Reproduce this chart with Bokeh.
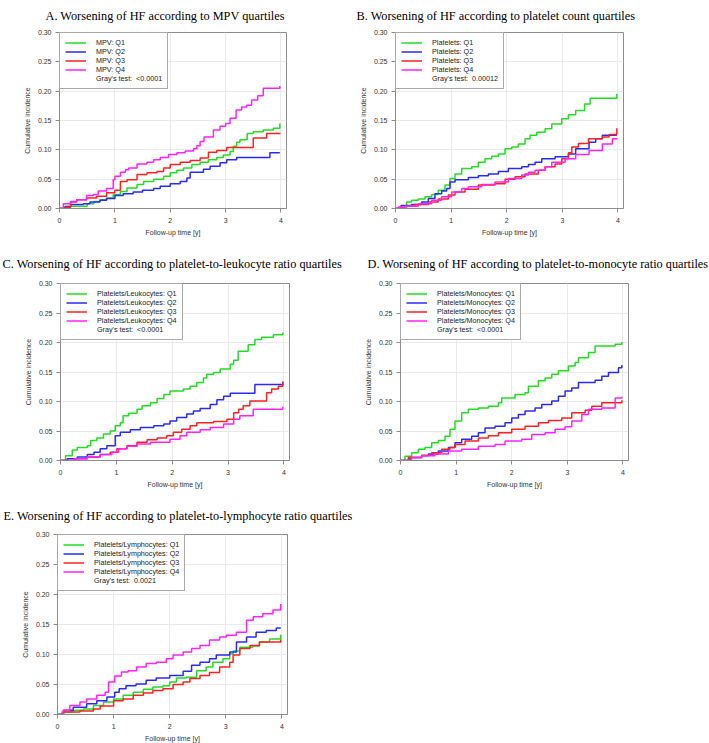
from bokeh.plotting import figure
from bokeh.models import Range1d, FixedTicker, Legend, LegendItem, NumeralTickFormatter
from bokeh.layouts import column, row
from bokeh.embed import file_html
from bokeh.resources import INLINE

# ---------------- data ----------------
COLORS = ["#22dd22", "#2a2aff", "#ff2020", "#ff22ff"]
X_TICKS = [0, 1, 2, 3, 4]
Y_TICKS = [0.0, 0.05, 0.10, 0.15, 0.20, 0.25, 0.30]

TITLES = [
    "A. Worsening of HF according to MPV quartiles",
    "B. Worsening of HF according to platelet count quartiles",
    "C. Worsening of HF according to platelet-to-leukocyte ratio quartiles",
    "D. Worsening of HF according to platelet-to-monocyte ratio quartiles",
    "E. Worsening of HF according to platelet-to-lymphocyte ratio quartiles",
]
GROUP_NAMES = ["MPV", "Platelets", "Platelets/Leukocytes", "Platelets/Monocytes", "Platelets/Lymphocytes"]
QUARTILES = ["Q1", "Q2", "Q3", "Q4"]
GRAY_P = ["<0.0001", "0.00012", "<0.0001", "<0.0001", "0.0021"]

# Panel A (MPV)
A_Q1_t = [0, 0.1, 0.5, 0.62, 0.73, 0.85, 0.97, 1.1, 1.22, 1.4, 1.52, 1.7, 1.88, 2.0, 2.12, 2.24, 2.39, 2.54, 2.69, 2.84, 2.96, 3.08, 3.14, 3.2, 3.26, 3.39, 3.5, 3.68, 3.86, 3.98]
A_Q1_y = [0, 0.004, 0.008, 0.012, 0.015, 0.018, 0.024, 0.029, 0.035, 0.041, 0.046, 0.050, 0.055, 0.061, 0.065, 0.069, 0.075, 0.079, 0.083, 0.087, 0.091, 0.097, 0.106, 0.113, 0.117, 0.128, 0.131, 0.134, 0.137, 0.145]
A_Q2_t = [0, 0.1, 0.2, 0.43, 0.55, 0.73, 0.85, 1.0, 1.15, 1.33, 1.5, 1.7, 1.82, 2.0, 2.18, 2.3, 2.36, 2.6, 2.72, 2.9, 3.02, 3.2, 3.8, 3.98]
A_Q2_y = [0, 0.003, 0.007, 0.008, 0.011, 0.014, 0.017, 0.022, 0.025, 0.028, 0.031, 0.034, 0.038, 0.042, 0.046, 0.052, 0.062, 0.067, 0.072, 0.078, 0.083, 0.087, 0.095, 0.095]
A_Q3_t = [0, 0.1, 0.2, 0.31, 0.49, 0.67, 0.85, 1.0, 1.1, 1.22, 1.4, 1.58, 1.76, 1.88, 2.0, 2.18, 2.36, 2.54, 2.69, 2.84, 3.02, 3.5, 3.74, 3.98]
A_Q3_y = [0, 0.002, 0.011, 0.015, 0.018, 0.021, 0.027, 0.031, 0.046, 0.049, 0.058, 0.061, 0.063, 0.069, 0.075, 0.079, 0.082, 0.086, 0.096, 0.099, 0.104, 0.120, 0.128, 0.129]
A_Q4_t = [0, 0.07, 0.2, 0.31, 0.49, 0.61, 0.7, 0.85, 0.97, 1.0, 1.1, 1.19, 1.25, 1.4, 1.58, 1.7, 1.82, 1.97, 2.12, 2.27, 2.42, 2.48, 2.54, 2.61, 2.78, 2.9, 3.0, 3.08, 3.19, 3.29, 3.38, 3.47, 3.58, 3.68, 3.98]
A_Q4_y = [0, 0.008, 0.012, 0.015, 0.022, 0.024, 0.030, 0.034, 0.049, 0.055, 0.062, 0.066, 0.069, 0.076, 0.079, 0.083, 0.087, 0.092, 0.095, 0.098, 0.102, 0.107, 0.114, 0.122, 0.134, 0.140, 0.145, 0.154, 0.168, 0.173, 0.176, 0.185, 0.192, 0.205, 0.209]

# Panel B (platelet count)
B_Q1_t = [0, 0.2, 0.29, 0.41, 0.53, 0.65, 0.77, 0.89, 0.98, 1.07, 1.19, 1.37, 1.49, 1.61, 1.73, 1.85, 1.97, 2.09, 2.21, 2.33, 2.42, 2.54, 2.69, 2.81, 2.99, 3.11, 3.24, 3.4, 3.5, 3.98]
B_Q1_y = [0, 0.011, 0.014, 0.016, 0.020, 0.024, 0.031, 0.040, 0.051, 0.059, 0.068, 0.071, 0.079, 0.085, 0.089, 0.093, 0.102, 0.105, 0.110, 0.119, 0.125, 0.130, 0.136, 0.144, 0.153, 0.160, 0.167, 0.178, 0.188, 0.195]
B_Q2_t = [0, 0.1, 0.29, 0.47, 0.59, 0.71, 0.83, 0.92, 0.98, 1.07, 1.31, 1.49, 1.67, 1.85, 2.03, 2.27, 2.39, 2.51, 2.63, 2.87, 3.11, 3.24, 3.48, 3.6, 3.72, 3.98]
B_Q2_y = [0, 0.005, 0.007, 0.011, 0.017, 0.025, 0.030, 0.034, 0.045, 0.049, 0.053, 0.056, 0.059, 0.063, 0.068, 0.071, 0.075, 0.079, 0.085, 0.088, 0.093, 0.102, 0.113, 0.119, 0.125, 0.125]
B_Q3_t = [0, 0.05, 0.17, 0.35, 0.59, 0.77, 0.95, 1.07, 1.25, 1.49, 1.79, 1.97, 2.15, 2.33, 2.57, 2.69, 2.87, 2.99, 3.11, 3.17, 3.29, 3.47, 3.72, 3.84, 3.98]
B_Q3_y = [0, 0.002, 0.004, 0.007, 0.011, 0.016, 0.023, 0.028, 0.033, 0.040, 0.042, 0.050, 0.054, 0.059, 0.065, 0.071, 0.076, 0.085, 0.095, 0.105, 0.111, 0.119, 0.122, 0.126, 0.137]
B_Q4_t = [0, 0.05, 0.17, 0.41, 0.65, 0.83, 1.01, 1.19, 1.31, 1.55, 1.79, 2.03, 2.27, 2.39, 2.51, 2.69, 2.81, 3.05, 3.24, 3.48, 3.72, 3.9, 3.98]
B_Q4_y = [0, 0.002, 0.004, 0.008, 0.014, 0.020, 0.028, 0.034, 0.037, 0.041, 0.045, 0.051, 0.057, 0.062, 0.065, 0.071, 0.079, 0.085, 0.092, 0.099, 0.110, 0.119, 0.120]

# Panel C (platelet-to-leukocyte)
C_Q1_t = [0, 0.09, 0.21, 0.3, 0.48, 0.54, 0.65, 0.77, 0.89, 0.98, 1.07, 1.12, 1.22, 1.37, 1.46, 1.61, 1.73, 1.85, 1.96, 2.2, 2.32, 2.44, 2.56, 2.62, 2.74, 2.86, 3.04, 3.1, 3.18, 3.36, 3.48, 3.6, 3.81, 3.98]
C_Q1_y = [0, 0.008, 0.018, 0.022, 0.025, 0.034, 0.038, 0.045, 0.050, 0.059, 0.064, 0.076, 0.080, 0.087, 0.093, 0.098, 0.105, 0.112, 0.118, 0.121, 0.126, 0.132, 0.140, 0.146, 0.149, 0.155, 0.163, 0.170, 0.185, 0.196, 0.205, 0.209, 0.213, 0.217]
C_Q2_t = [0, 0.12, 0.3, 0.48, 0.6, 0.71, 0.83, 0.98, 1.07, 1.25, 1.43, 1.67, 1.85, 1.96, 2.08, 2.26, 2.38, 2.5, 2.68, 2.8, 2.92, 3.04, 3.48, 3.98]
C_Q2_y = [0, 0.003, 0.006, 0.010, 0.014, 0.020, 0.025, 0.042, 0.048, 0.052, 0.056, 0.059, 0.062, 0.067, 0.073, 0.079, 0.084, 0.088, 0.095, 0.103, 0.109, 0.114, 0.129, 0.134]
C_Q3_t = [0, 0.24, 0.48, 0.71, 0.89, 1.01, 1.19, 1.37, 1.55, 1.73, 1.9, 2.02, 2.17, 2.32, 2.44, 2.74, 2.98, 3.1, 3.19, 3.27, 3.39, 3.69, 3.78, 3.9, 3.98]
C_Q3_y = [0, 0.003, 0.006, 0.010, 0.014, 0.020, 0.025, 0.031, 0.035, 0.038, 0.042, 0.048, 0.053, 0.059, 0.064, 0.066, 0.070, 0.081, 0.087, 0.093, 0.101, 0.115, 0.121, 0.126, 0.132]
C_Q4_t = [0, 0.24, 0.48, 0.71, 0.92, 1.04, 1.19, 1.37, 1.61, 1.96, 2.14, 2.26, 2.5, 2.68, 2.92, 3.1, 3.21, 3.45, 3.98]
C_Q4_y = [0, 0.003, 0.006, 0.010, 0.014, 0.020, 0.024, 0.028, 0.031, 0.036, 0.042, 0.048, 0.052, 0.056, 0.062, 0.070, 0.076, 0.087, 0.091]

# Panel D (platelet-to-monocyte)
D_Q1_t = [0, 0.08, 0.2, 0.32, 0.44, 0.56, 0.68, 0.8, 0.89, 0.98, 1.1, 1.22, 1.4, 1.58, 1.76, 1.82, 2.06, 2.24, 2.3, 2.48, 2.6, 2.72, 2.84, 3.02, 3.14, 3.2, 3.38, 3.5, 3.86, 3.98]
D_Q1_y = [0, 0.007, 0.013, 0.019, 0.022, 0.030, 0.034, 0.041, 0.053, 0.067, 0.081, 0.087, 0.089, 0.092, 0.098, 0.106, 0.112, 0.115, 0.126, 0.135, 0.140, 0.146, 0.152, 0.160, 0.166, 0.174, 0.183, 0.194, 0.197, 0.201]
D_Q2_t = [0, 0.17, 0.38, 0.5, 0.68, 0.86, 0.98, 1.1, 1.28, 1.4, 1.52, 1.7, 1.88, 2.0, 2.12, 2.24, 2.42, 2.54, 2.72, 2.84, 2.96, 3.08, 3.2, 3.5, 3.62, 3.74, 3.92, 3.98]
D_Q2_y = [0, 0.005, 0.008, 0.011, 0.016, 0.022, 0.030, 0.036, 0.041, 0.047, 0.055, 0.058, 0.064, 0.072, 0.078, 0.084, 0.089, 0.095, 0.101, 0.109, 0.118, 0.123, 0.132, 0.136, 0.143, 0.149, 0.157, 0.162]
D_Q3_t = [0, 0.14, 0.38, 0.56, 0.74, 0.89, 0.98, 1.16, 1.4, 1.58, 1.76, 2.0, 2.24, 2.48, 2.66, 2.9, 3.08, 3.32, 3.44, 3.62, 3.98]
D_Q3_y = [0, 0.005, 0.009, 0.013, 0.019, 0.022, 0.027, 0.033, 0.038, 0.042, 0.047, 0.053, 0.058, 0.064, 0.068, 0.072, 0.081, 0.085, 0.092, 0.098, 0.102]
D_Q4_t = [0, 0.2, 0.38, 0.62, 0.86, 1.1, 1.4, 1.7, 1.88, 2.18, 2.36, 2.6, 2.78, 2.96, 3.08, 3.26, 3.38, 3.62, 3.86, 3.98]
D_Q4_y = [0, 0.005, 0.008, 0.011, 0.016, 0.019, 0.024, 0.027, 0.033, 0.036, 0.044, 0.047, 0.053, 0.057, 0.067, 0.078, 0.087, 0.089, 0.106, 0.108]

# Panel E (platelet-to-lymphocyte)
E_Q1_t = [0, 0.08, 0.28, 0.46, 0.64, 0.82, 1.0, 1.17, 1.35, 1.53, 1.7, 1.88, 2.0, 2.12, 2.3, 2.48, 2.65, 2.77, 2.95, 3.07, 3.13, 3.25, 3.48, 3.6, 3.78, 3.98]
E_Q1_y = [0, 0.004, 0.007, 0.009, 0.015, 0.021, 0.026, 0.032, 0.037, 0.042, 0.046, 0.048, 0.054, 0.061, 0.062, 0.073, 0.079, 0.087, 0.093, 0.101, 0.106, 0.112, 0.114, 0.121, 0.126, 0.133]
E_Q2_t = [0, 0.11, 0.28, 0.52, 0.7, 0.88, 1.02, 1.1, 1.22, 1.4, 1.58, 1.76, 2.0, 2.24, 2.39, 2.54, 2.71, 2.83, 3.07, 3.19, 3.37, 3.54, 3.72, 3.9, 3.98]
E_Q2_y = [0, 0.007, 0.012, 0.018, 0.023, 0.029, 0.037, 0.043, 0.048, 0.051, 0.057, 0.061, 0.065, 0.072, 0.082, 0.087, 0.093, 0.099, 0.104, 0.121, 0.129, 0.137, 0.140, 0.144, 0.144]
E_Q3_t = [0, 0.1, 0.4, 0.64, 0.76, 1.0, 1.17, 1.35, 1.53, 1.7, 1.88, 2.06, 2.24, 2.36, 2.54, 2.71, 2.89, 3.07, 3.13, 3.25, 3.43, 3.6, 3.98]
E_Q3_y = [0, 0.004, 0.006, 0.009, 0.014, 0.023, 0.026, 0.032, 0.036, 0.040, 0.043, 0.050, 0.054, 0.060, 0.065, 0.070, 0.079, 0.087, 0.099, 0.110, 0.115, 0.121, 0.125]
E_Q4_t = [0, 0.1, 0.22, 0.4, 0.52, 0.7, 0.85, 0.91, 1.02, 1.14, 1.26, 1.41, 1.58, 1.76, 1.94, 2.06, 2.24, 2.39, 2.54, 2.71, 2.89, 3.01, 3.19, 3.37, 3.49, 3.66, 3.84, 3.98]
E_Q4_y = [0, 0.007, 0.015, 0.021, 0.026, 0.032, 0.037, 0.054, 0.064, 0.071, 0.073, 0.079, 0.085, 0.087, 0.093, 0.099, 0.104, 0.110, 0.115, 0.124, 0.129, 0.132, 0.137, 0.157, 0.163, 0.168, 0.174, 0.184]

SERIES = [
    [(A_Q1_t, A_Q1_y), (A_Q2_t, A_Q2_y), (A_Q3_t, A_Q3_y), (A_Q4_t, A_Q4_y)],
    [(B_Q1_t, B_Q1_y), (B_Q2_t, B_Q2_y), (B_Q3_t, B_Q3_y), (B_Q4_t, B_Q4_y)],
    [(C_Q1_t, C_Q1_y), (C_Q2_t, C_Q2_y), (C_Q3_t, C_Q3_y), (C_Q4_t, C_Q4_y)],
    [(D_Q1_t, D_Q1_y), (D_Q2_t, D_Q2_y), (D_Q3_t, D_Q3_y), (D_Q4_t, D_Q4_y)],
    [(E_Q1_t, E_Q1_y), (E_Q2_t, E_Q2_y), (E_Q3_t, E_Q3_y), (E_Q4_t, E_Q4_y)],
]

SANS = "Liberation Sans"
SERIF = "Liberation Serif"
BOX = "#8c8c8c"
TXT = "#333333"


def panel(i, L, W, R, T, H, B, title_offset):
    p = figure(frame_width=W, frame_height=H,
               min_border_left=L, min_border_right=R,
               min_border_top=T, min_border_bottom=B,
               x_range=Range1d(0, 4.1), y_range=Range1d(0, 0.30),
               output_backend="svg", toolbar_location=None)

    # title: its panel fills (almost) the whole top border, text pinned near its top
    p.title.text = TITLES[i]
    p.title.text_font = SERIF
    p.title.text_font_size = "12.3px"
    p.title.text_font_style = "normal"
    p.title.text_color = "black"
    p.title.align = "left"
    p.title.vertical_align = "top"
    p.title.offset = title_offset
    p.title.standoff = T - 17

    p.outline_line_color = BOX
    p.outline_line_width = 1
    p.background_fill_color = "white"
    p.border_fill_color = "white"

    p.xaxis.ticker = FixedTicker(ticks=X_TICKS)
    p.yaxis.ticker = FixedTicker(ticks=Y_TICKS)
    p.yaxis.formatter = NumeralTickFormatter(format="0.00")
    p.xgrid.ticker = FixedTicker(ticks=X_TICKS)
    p.ygrid.ticker = FixedTicker(ticks=Y_TICKS)
    p.grid.grid_line_color = "#e9e9e9"
    p.grid.grid_line_width = 1

    for ax in (p.xaxis, p.yaxis):
        ax.axis_line_color = BOX
        ax.major_tick_line_color = BOX
        ax.minor_tick_line_color = None
        ax.major_tick_in = 0
        ax.major_tick_out = 4
        ax.major_label_text_font = SANS
        ax.major_label_text_font_size = "7px"
        ax.major_label_text_color = TXT
        ax.axis_label_text_font = SANS
        ax.axis_label_text_font_size = "7px"
        ax.axis_label_text_font_style = "normal"
        ax.axis_label_text_color = TXT
    p.xaxis.axis_label = "Follow-up time [y]"
    p.yaxis.axis_label = "Cumulative incidence"
    p.yaxis.major_label_standoff = 4
    p.yaxis.axis_label_standoff = 4
    p.xaxis.major_label_standoff = 5
    p.xaxis.axis_label_standoff = 3

    items = []
    for q, (t, y) in enumerate(SERIES[i]):
        r = p.step(x=t, y=y, mode="after", line_color=COLORS[q], line_width=1.5)
        items.append(LegendItem(label=f"{GROUP_NAMES[i]}: {QUARTILES[q]}", renderers=[r]))
    dummy = p.line(x=[], y=[], line_alpha=0)
    items.append(LegendItem(label=f"Gray's test:  {GRAY_P[i]}", renderers=[dummy]))

    leg = Legend(items=items, location="top_left", margin=0, padding=5, spacing=0,
                 glyph_width=21, glyph_height=7, label_height=7, label_standoff=10,
                 label_text_font=SANS, label_text_font_size="7.2px", label_text_color="#222222",
                 border_line_color="#555555", border_line_width=1,
                 background_fill_color="white", background_fill_alpha=1)
    p.add_layout(leg)
    return p


# row 1: canvas top at page y 0
pA = panel(0, L=59, W=227, R=57, T=32, H=176, B=37, title_offset=-14)
pB = panel(1, L=52, W=228, R=86, T=32, H=176, B=37, title_offset=-39)
# row 2: canvas top at page y 245
pC = panel(2, L=60, W=229, R=59, T=38, H=177, B=37, title_offset=-58)
pD = panel(3, L=52, W=228, R=81, T=38, H=177, B=37, title_offset=-33)
# row 3: canvas top at page y 497
pE = panel(4, L=57, W=230, R=70, T=37, H=180, B=28, title_offset=-54)

layout = column(row(pA, pB), row(pC, pD), pE)

open("out.html", "w").write(file_html(layout, INLINE))
